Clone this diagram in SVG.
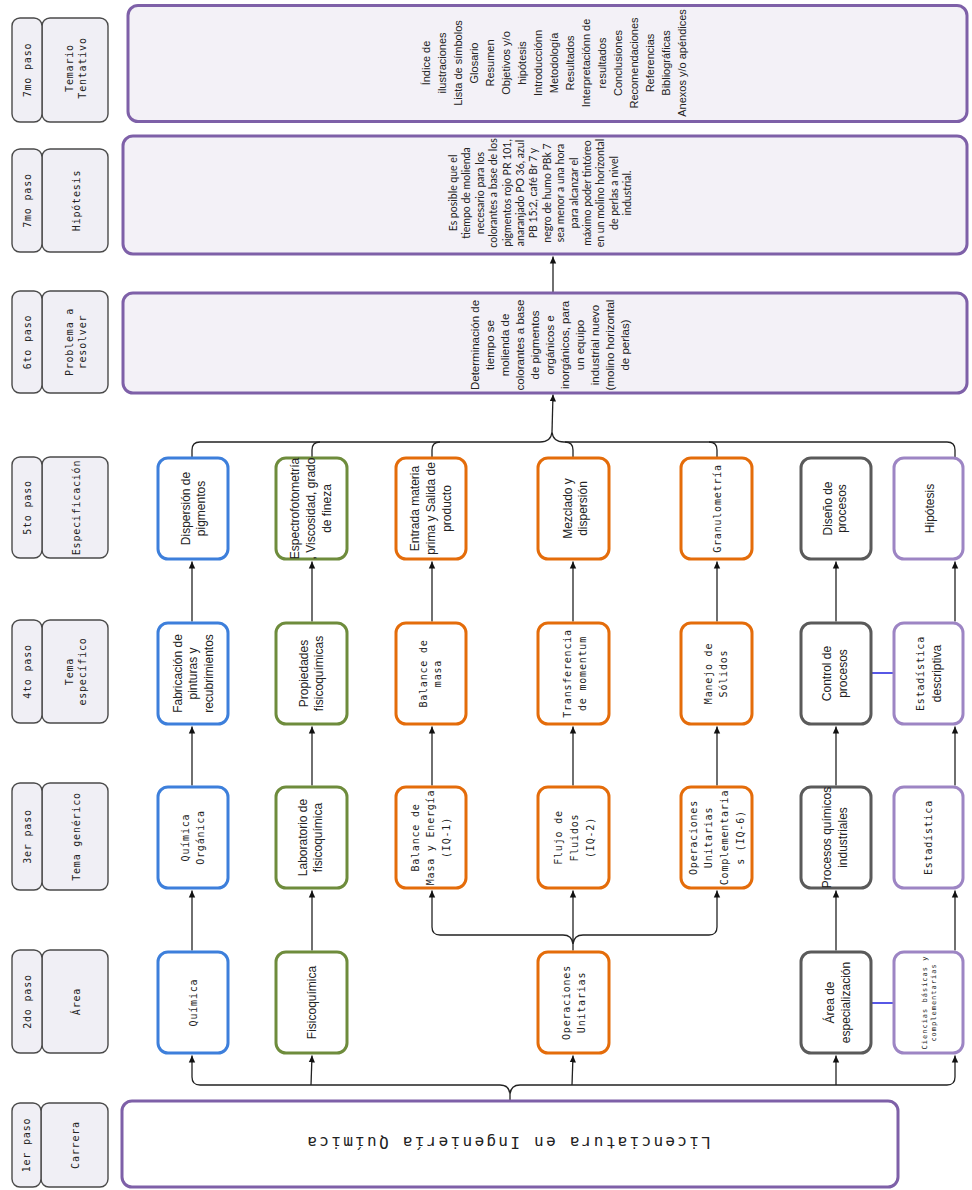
<svg xmlns="http://www.w3.org/2000/svg" width="972" height="1190" viewBox="0 0 972 1190">
<defs>
<style>
.hdr{fill:#f0eff5;stroke:#4a4a4a;stroke-width:1.4}
.big{fill:#f3f1f7;stroke:#7e60a8;stroke-width:3}
.box{fill:#fff;stroke-width:3}
.blue{stroke:#3d7fdb}
.green{stroke:#6e8c3c}
.orange{stroke:#e46c0a}
.gray{stroke:#5a5a5a}
.purple{stroke:#9d85c4}
.sans{font-family:"Liberation Sans",Arial,sans-serif;font-size:12px;fill:#222;text-anchor:middle}
.mono{font-family:"DejaVu Sans Mono","Liberation Mono",monospace;font-size:10px;letter-spacing:0.8px;fill:#222;text-anchor:middle}
.conn{fill:none;stroke:#222;stroke-width:1.3}
.link{fill:none;stroke:#2d2de0;stroke-width:1.6}
</style>
<marker id="ah" markerWidth="8" markerHeight="8" refX="7" refY="4" orient="auto" markerUnits="userSpaceOnUse"><path d="M0,0.8 L7,4 L0,7.2 z" fill="#111"/></marker>
</defs>
<rect width="972" height="1190" fill="#fff"/>

<!-- headers -->
<g id="h7a"><rect class="hdr" x="42" y="18" width="66" height="104" rx="8"/><rect class="hdr" x="12" y="18" width="30" height="104" rx="8"/>
<text class="mono" transform="translate(27,70) rotate(-90)"><tspan x="0" y="3.5">7mo paso</tspan></text>
<text class="mono" transform="translate(76,68) rotate(-90)"><tspan x="0" y="-2.75">Temario</tspan><tspan x="0" y="9.75">Tentativo</tspan></text></g>
<g id="h7b"><rect class="hdr" x="42" y="149" width="66" height="103" rx="8"/><rect class="hdr" x="12" y="149" width="30" height="103" rx="8"/>
<text class="mono" transform="translate(27,200.5) rotate(-90)"><tspan x="0" y="3.5">7mo paso</tspan></text>
<text class="mono" transform="translate(76,200.5) rotate(-90)"><tspan x="0" y="3.5">Hipótesis</tspan></text></g>
<g id="h6"><rect class="hdr" x="42" y="291" width="66" height="102" rx="8"/><rect class="hdr" x="12" y="291" width="30" height="102" rx="8"/>
<text class="mono" transform="translate(27,342) rotate(-90)"><tspan x="0" y="3.5">6to paso</tspan></text>
<text class="mono" transform="translate(76,342) rotate(-90)"><tspan x="0" y="-2.75">Problema a</tspan><tspan x="0" y="9.75">resolver</tspan></text></g>
<g id="h5"><rect class="hdr" x="42" y="457" width="66" height="101" rx="8"/><rect class="hdr" x="12" y="457" width="30" height="101" rx="8"/>
<text class="mono" transform="translate(27,507.5) rotate(-90)"><tspan x="0" y="3.5">5to paso</tspan></text>
<text class="mono" transform="translate(76,507.5) rotate(-90)"><tspan x="0" y="3.5">Especificación</tspan></text></g>
<g id="h4"><rect class="hdr" x="42" y="620" width="66" height="103" rx="8"/><rect class="hdr" x="12" y="620" width="30" height="103" rx="8"/>
<text class="mono" transform="translate(27,671.5) rotate(-90)"><tspan x="0" y="3.5">4to paso</tspan></text>
<text class="mono" transform="translate(76,671.5) rotate(-90)"><tspan x="0" y="-2.75">Tema</tspan><tspan x="0" y="9.75">específico</tspan></text></g>
<g id="h3"><rect class="hdr" x="42" y="783" width="66" height="107" rx="8"/><rect class="hdr" x="12" y="783" width="30" height="107" rx="8"/>
<text class="mono" transform="translate(27,836.5) rotate(-90)"><tspan x="0" y="3.5">3er paso</tspan></text>
<text class="mono" transform="translate(76,836.5) rotate(-90)"><tspan x="0" y="3.5">Tema genérico</tspan></text></g>
<g id="h2"><rect class="hdr" x="42" y="950" width="66" height="103" rx="8"/><rect class="hdr" x="12" y="950" width="30" height="103" rx="8"/>
<text class="mono" transform="translate(27,1001.5) rotate(-90)"><tspan x="0" y="3.5">2do paso</tspan></text>
<text class="mono" transform="translate(76,1001.5) rotate(-90)"><tspan x="0" y="3.5">Área</tspan></text></g>
<g id="h1"><rect class="hdr" x="41" y="1103" width="67" height="84" rx="8"/><rect class="hdr" x="12" y="1103" width="29" height="84" rx="8"/>
<text class="mono" transform="translate(26.5,1145) rotate(-90)"><tspan x="0" y="3.5">1er paso</tspan></text>
<text class="mono" transform="translate(75,1145) rotate(-90)"><tspan x="0" y="3.5">Carrera</tspan></text></g>

<!-- connectors -->
<g id="connectors">
<path class="conn" d="M553,292 L553,256.5" marker-end="url(#ah)"/>
<path class="conn" d="M552,432 L553,394.5" marker-end="url(#ah)"/>
<path class="conn" d="M192,457 L192,450 Q192,442 200,442 L540,442 Q551,442 552,432 Q553,442 564,442 L947,442 Q955,442 955,450 L955,457"/>
<path class="conn" d="M312,457 L312,450 Q312,442 320,442"/>
<path class="conn" d="M432,457 L432,450 Q432,442 440,442"/>
<path class="conn" d="M573,457 L573,450 Q573,442 565,442"/>
<path class="conn" d="M717,457 L717,450 Q717,442 709,442"/>
<path class="conn" d="M192,621.5 L192,561.5" marker-end="url(#ah)"/>
<path class="conn" d="M312,621.5 L312,561.5" marker-end="url(#ah)"/>
<path class="conn" d="M432,621.5 L432,561.5" marker-end="url(#ah)"/>
<path class="conn" d="M573,621.5 L573,561.5" marker-end="url(#ah)"/>
<path class="conn" d="M717,621.5 L717,561.5" marker-end="url(#ah)"/>
<path class="conn" d="M836,621.5 L836,561.5" marker-end="url(#ah)"/>
<path class="conn" d="M955,621.5 L955,561.5" marker-end="url(#ah)"/>
<path class="conn" d="M192,785.5 L192,726.5" marker-end="url(#ah)"/>
<path class="conn" d="M312,785.5 L312,726.5" marker-end="url(#ah)"/>
<path class="conn" d="M432,785.5 L432,726.5" marker-end="url(#ah)"/>
<path class="conn" d="M573,785.5 L573,726.5" marker-end="url(#ah)"/>
<path class="conn" d="M717,785.5 L717,726.5" marker-end="url(#ah)"/>
<path class="conn" d="M836,785.5 L836,726.5" marker-end="url(#ah)"/>
<path class="conn" d="M955,785.5 L955,726.5" marker-end="url(#ah)"/>
<path class="conn" d="M192,950.5 L192,890.5" marker-end="url(#ah)"/>
<path class="conn" d="M312,950.5 L312,890.5" marker-end="url(#ah)"/>
<path class="conn" d="M836,950.5 L836,890.5" marker-end="url(#ah)"/>
<path class="conn" d="M955,950.5 L955,890.5" marker-end="url(#ah)"/>
<path class="conn" d="M432,927 Q432,935 440,935 L563,935 Q572,935 573,944 Q574,935 583,935 L709,935 Q717,935 717,927 M573,944 L573,950.5"/>
<path class="conn" d="M432,927 L432,890.5" marker-end="url(#ah)"/>
<path class="conn" d="M573,944 L573,890.5" marker-end="url(#ah)"/>
<path class="conn" d="M717,927 L717,890.5" marker-end="url(#ah)"/>
<path class="conn" d="M192,1077 Q192,1085 200,1085 L500,1085 Q509,1085 510,1094 Q511,1085 520,1085 L947,1085 Q955,1085 955,1077 M510,1094 L510,1100"/>
<path class="conn" d="M192,1077 L192,1055.5" marker-end="url(#ah)"/>
<path class="conn" d="M311,1085 L312,1055.5" marker-end="url(#ah)"/>
<path class="conn" d="M572,1085 L573,1055.5" marker-end="url(#ah)"/>
<path class="conn" d="M836,1085 L836,1055.5" marker-end="url(#ah)"/>
<path class="conn" d="M955,1077 L955,1055.5" marker-end="url(#ah)"/>
<path class="link" d="M872,673 L893,673"/>
<path class="link" d="M872,1003 L893,1003"/>
</g>

<!-- big boxes -->
<g id="temario"><rect class="big" x="128" y="5.5" width="839" height="116" rx="10"/>
<text class="sans" style="font-size:11px" transform="translate(554.5,63) rotate(-90)">
<tspan x="0" y="-124.1">Índice de</tspan><tspan x="0" y="-108.1">ilustraciones</tspan><tspan x="0" y="-92.1">Lista de símbolos</tspan><tspan x="0" y="-76.1">Glosario</tspan><tspan x="0" y="-60.1">Resumen</tspan><tspan x="0" y="-44.1">Objetivos y/o</tspan><tspan x="0" y="-28.1">hipótesis</tspan><tspan x="0" y="-12.1">Introducciónn</tspan><tspan x="0" y="3.9">Metodología</tspan><tspan x="0" y="19.9">Resultados</tspan><tspan x="0" y="35.9">Interpretaciónn de</tspan><tspan x="0" y="51.9">resultados</tspan><tspan x="0" y="67.9">Conclusiones</tspan><tspan x="0" y="83.9">Recomendaciones</tspan><tspan x="0" y="99.9">Referencias</tspan><tspan x="0" y="115.9">Bibliográficas</tspan><tspan x="0" y="131.9">Anexos y/o apéndices</tspan></text></g>

<g id="hipotesis"><rect class="big" x="123" y="136" width="844" height="118" rx="10"/>
<text class="sans" style="font-family:Lato,'Liberation Sans',sans-serif;font-size:10.5px" transform="translate(540.5,193) rotate(-90)">
<tspan x="0" y="-83.6">Es posible que el</tspan><tspan x="0" y="-70.2">tiempo de molienda</tspan><tspan x="0" y="-56.8">necesario para los</tspan><tspan x="0" y="-43.4">colorantes a base de los</tspan><tspan x="0" y="-30">pigmentos rojo PR 101,</tspan><tspan x="0" y="-16.6">anaranjado PO 36, azul</tspan><tspan x="0" y="-3.2">PB 15:2, café Br 7 y</tspan><tspan x="0" y="10.2">negro de humo PBk 7</tspan><tspan x="0" y="23.6">sea menor a una hora</tspan><tspan x="0" y="37">para alcanzar el</tspan><tspan x="0" y="50.4">máximo poder tintóreo</tspan><tspan x="0" y="63.8">en un molino horizontal</tspan><tspan x="0" y="77.2">de perlas a nivel</tspan><tspan x="0" y="90.6">industrial.</tspan></text></g>

<g id="problema"><rect class="big" x="123" y="293" width="844" height="100" rx="10"/>
<text class="sans" style="font-size:11.5px" transform="translate(550,345) rotate(-90)">
<tspan x="0" y="-71">Determinación de</tspan><tspan x="0" y="-56">tiempo se</tspan><tspan x="0" y="-41">molienda de</tspan><tspan x="0" y="-26">colorantes a base</tspan><tspan x="0" y="-11">de  pigmentos</tspan><tspan x="0" y="4">orgánicos e</tspan><tspan x="0" y="19">inorgánicos, para</tspan><tspan x="0" y="34">un equipo</tspan><tspan x="0" y="49">industrial nuevo</tspan><tspan x="0" y="64">(molino horizontal</tspan><tspan x="0" y="79">de perlas)</tspan></text></g>

<g id="carrera"><rect class="big" style="fill:#fff" x="122" y="1101" width="776" height="86" rx="10"/>
<text class="mono" style="font-size:16px;letter-spacing:2.3px" transform="translate(508,1143) rotate(180)"><tspan x="0" y="5.6">Licenciatura en Ingeniería Química</tspan></text></g>

<!-- row 5 -->
<g id="r5c1"><rect class="box blue" x="158" y="458" width="70" height="101" rx="10"/>
<text class="sans" transform="translate(193,508.5) rotate(-90)"><tspan x="0" y="-3.3">Dispersión de</tspan><tspan x="0" y="11.7">pigmentos</tspan></text></g>
<g id="r5c2"><rect class="box green" x="276" y="458" width="71" height="101" rx="10"/>
<text class="sans" transform="translate(311,508.5) rotate(-90)"><tspan x="0" y="-11.8">Espectrofotometría</tspan><tspan x="0" y="4.2">, Viscosidad, grado</tspan><tspan x="0" y="20.2">de fineza</tspan></text></g>
<g id="r5c3"><rect class="box orange" x="396" y="458" width="70" height="101" rx="10"/>
<text class="sans" transform="translate(431,508.5) rotate(-90)"><tspan x="0" y="-11.8">Entrada materia</tspan><tspan x="0" y="4.2">prima  y Salida de</tspan><tspan x="0" y="20.2">producto</tspan></text></g>
<g id="r5c4"><rect class="box orange" x="538" y="458" width="71" height="101" rx="10"/>
<text class="sans" transform="translate(575,508.5) rotate(-90)"><tspan x="0" y="-3.3">Mezclado y</tspan><tspan x="0" y="11.7">dispersión</tspan></text></g>
<g id="r5c5"><rect class="box orange" x="681" y="458" width="71" height="101" rx="10"/>
<text class="mono" transform="translate(717.5,508.5) rotate(-90)"><tspan x="0" y="3.5">Granulometría</tspan></text></g>
<g id="r5c6"><rect class="box gray" x="801" y="458" width="70" height="101" rx="10"/>
<text class="sans" transform="translate(835,508.5) rotate(-90)"><tspan x="0" y="-2.8">Diseño de</tspan><tspan x="0" y="11.2">procesos</tspan></text></g>
<g id="r5c7"><rect class="box purple" x="894" y="458" width="69" height="101" rx="10"/>
<text class="sans" transform="translate(930,508.5) rotate(-90)"><tspan x="0" y="4.2">Hipótesis</tspan></text></g>

<!-- row 4 -->
<g id="r4c1"><rect class="box blue" x="158" y="623" width="70" height="101" rx="10"/>
<text class="sans" transform="translate(193,673.5) rotate(-90)"><tspan x="0" y="-11.3">Fabricación de</tspan><tspan x="0" y="4.2">pinturas y</tspan><tspan x="0" y="19.7">recubrimientos</tspan></text></g>
<g id="r4c2"><rect class="box green" x="276" y="623" width="71" height="101" rx="10"/>
<text class="sans" transform="translate(311,673.5) rotate(-90)"><tspan x="0" y="-3.3">Propiedades</tspan><tspan x="0" y="11.7">fisicoquímicas</tspan></text></g>
<g id="r4c3"><rect class="box orange" x="396" y="623" width="70" height="101" rx="10"/>
<text class="mono" transform="translate(430,673.5) rotate(-90)"><tspan x="0" y="-3.5">Balance de</tspan><tspan x="0" y="10.5">masa</tspan></text></g>
<g id="r4c4"><rect class="box orange" x="538" y="623" width="71" height="101" rx="10"/>
<text class="mono" transform="translate(574.5,673.5) rotate(-90)"><tspan x="0" y="-4">Transferencia</tspan><tspan x="0" y="11">de momentum</tspan></text></g>
<g id="r4c5"><rect class="box orange" x="681" y="623" width="71" height="101" rx="10"/>
<text class="mono" transform="translate(716,673.5) rotate(-90)"><tspan x="0" y="-4">Manejo de</tspan><tspan x="0" y="11">Sólidos</tspan></text></g>
<g id="r4c6"><rect class="box gray" x="801" y="623" width="70" height="101" rx="10"/>
<text class="sans" transform="translate(835,673.5) rotate(-90)"><tspan x="0" y="-3.8">Control de</tspan><tspan x="0" y="12.2">procesos</tspan></text></g>
<g id="r4c7"><rect class="box purple" x="894" y="623" width="69" height="101" rx="10"/>
<text class="mono" transform="translate(928.5,673.5) rotate(-90)"><tspan x="0" y="-4.5">Estadística</tspan></text>
<text class="sans" transform="translate(928.5,673.5) rotate(-90)"><tspan x="0" y="12.2">descriptiva</tspan></text></g>

<!-- row 3 -->
<g id="r3c1"><rect class="box blue" x="158" y="787" width="70" height="101" rx="10"/>
<text class="mono" transform="translate(192.5,837.5) rotate(-90)"><tspan x="0" y="-4">Química</tspan><tspan x="0" y="11">Orgánica</tspan></text></g>
<g id="r3c2"><rect class="box green" x="276" y="787" width="71" height="101" rx="10"/>
<text class="sans" transform="translate(310.5,837.5) rotate(-90)"><tspan x="0" y="-3.3">Laboratorio de</tspan><tspan x="0" y="11.7">fisicoquímica</tspan></text></g>
<g id="r3c3"><rect class="box orange" x="396" y="787" width="70" height="101" rx="10"/>
<text class="mono" transform="translate(430.5,837.5) rotate(-90)"><tspan x="0" y="-12">Balance de</tspan><tspan x="0" y="3.5">Masa y Energía</tspan><tspan x="0" y="19">(IQ-1)</tspan></text></g>
<g id="r3c4"><rect class="box orange" x="538" y="787" width="71" height="101" rx="10"/>
<text class="mono" transform="translate(574,837.5) rotate(-90)"><tspan x="0" y="-12.5">Flujo de</tspan><tspan x="0" y="3.5">Fluidos</tspan><tspan x="0" y="19.5">(IQ-2)</tspan></text></g>
<g id="r3c5"><rect class="box orange" x="681" y="787" width="71" height="101" rx="10"/>
<text class="mono" transform="translate(716.5,837.5) rotate(-90)"><tspan x="0" y="-20">Operaciones</tspan><tspan x="0" y="-4.4">Unitarias</tspan><tspan x="0" y="11.3">Complementaria</tspan><tspan x="0" y="27">s (IQ-6)</tspan></text></g>
<g id="r3c6"><rect class="box gray" x="801" y="787" width="70" height="101" rx="10"/>
<text class="sans" transform="translate(835,837.5) rotate(-90)"><tspan x="0" y="-3.8">Procesos químicos</tspan><tspan x="0" y="12.2">industriales</tspan></text></g>
<g id="r3c7"><rect class="box purple" x="894" y="787" width="69" height="101" rx="10"/>
<text class="mono" transform="translate(928,837.5) rotate(-90)"><tspan x="0" y="3.5">Estadística</tspan></text></g>

<!-- row 2 -->
<g id="r2c1"><rect class="box blue" x="158" y="952" width="70" height="101" rx="10"/>
<text class="mono" transform="translate(193,1002.5) rotate(-90)"><tspan x="0" y="3.5">Química</tspan></text></g>
<g id="r2c2"><rect class="box green" x="276" y="952" width="71" height="101" rx="10"/>
<text class="sans" transform="translate(312,1002.5) rotate(-90)"><tspan x="0" y="4.2">Fisicoquímica</tspan></text></g>
<g id="r2c4"><rect class="box orange" x="538" y="952" width="71" height="101" rx="10"/>
<text class="mono" transform="translate(574,1002.5) rotate(-90)"><tspan x="0" y="-4">Operaciones</tspan><tspan x="0" y="11">Unitarias</tspan></text></g>
<g id="r2c6"><rect class="box gray" x="801" y="952" width="70" height="101" rx="10"/>
<text class="sans" transform="translate(838,1002.5) rotate(-90)"><tspan x="0" y="-3.8">Área de</tspan><tspan x="0" y="12.2">especialización</tspan></text></g>
<g id="r2c7"><rect class="box purple" x="894" y="952" width="69" height="101" rx="10"/>
<text class="mono" style="font-size:7px;letter-spacing:1px" transform="translate(929,1002.5) rotate(-90)"><tspan x="0" y="-2">Ciencias básicas y</tspan><tspan x="0" y="7">complementarias</tspan></text></g>
</svg>
